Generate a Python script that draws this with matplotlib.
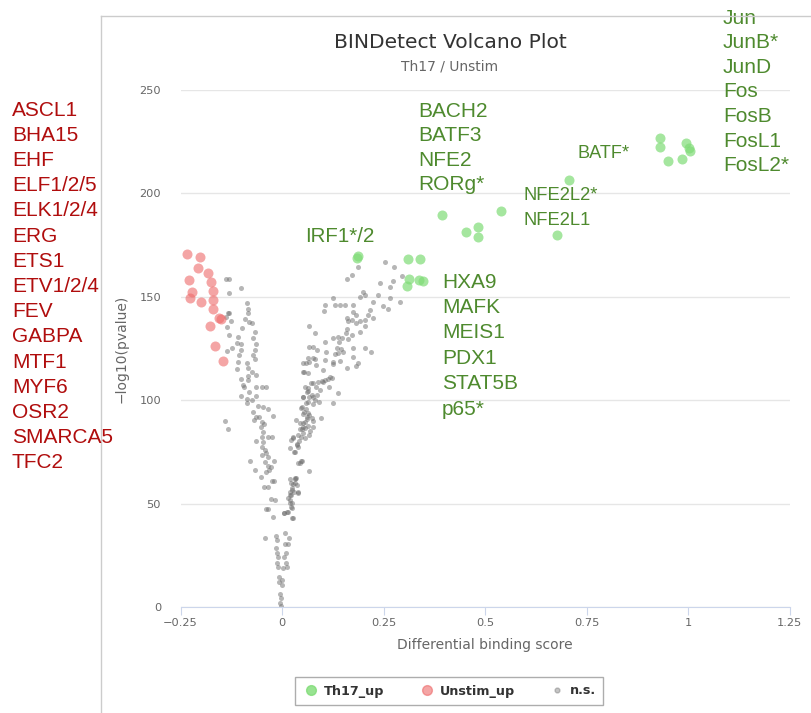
import matplotlib
matplotlib.use("Agg")
import matplotlib.pyplot as plt
from matplotlib.lines import Line2D

# Th17_up motifs (differential binding score, -log10 pvalue)
up_x = [0.931, 0.931, 0.951, 0.995, 1.002, 1.005, 0.985, 0.707, 0.539, 0.394,
        0.483, 0.453, 0.483, 0.677, 0.184, 0.188, 0.311, 0.340, 0.314, 0.338,
        0.348, 0.309]
up_y = [226.8, 222.4, 215.7, 224.4, 222.0, 220.5, 216.6, 206.5, 191.5, 189.6,
        183.8, 181.3, 178.9, 179.9, 168.6, 169.7, 168.3, 168.3, 158.5, 158.1,
        157.8, 155.2]

# Unstim_up motifs
down_x = [-0.235, -0.202, -0.208, -0.182, -0.228, -0.176, -0.222, -0.227, -0.171,
          -0.171, -0.200, -0.171, -0.154, -0.150, -0.177, -0.165, -0.145]
down_y = [170.7, 169.1, 163.8, 161.7, 158.1, 157.3, 152.2, 149.3, 152.8,
          148.5, 147.6, 144.0, 139.9, 139.3, 136.0, 126.4, 119.1]

# non-significant motifs
ns_x = [-0.139, -0.131, -0.101, -0.130, -0.087, -0.084, -0.083, -0.134, -0.130, -0.139,
        -0.091, -0.075, -0.081, -0.126, -0.136, -0.099, -0.067, -0.130, -0.071, -0.108,
        -0.110, -0.101, -0.064, -0.124, -0.136, -0.101, -0.067, -0.071, -0.105, -0.067,
        -0.108, -0.087, -0.112, -0.083, -0.075, -0.064, -0.101, -0.083, -0.084, -0.097,
        -0.093, -0.050, -0.040, -0.065, -0.081, -0.064, -0.102, -0.087, -0.085, -0.073,
        -0.058, -0.048, -0.035, -0.023, -0.071, -0.064, -0.068, -0.057, -0.050, -0.044,
        -0.052, -0.046, -0.049, -0.140, -0.134, -0.034, -0.024, -0.065, -0.048, -0.049,
        -0.042, -0.049, -0.040, -0.035, -0.078, -0.042, -0.019, -0.035, -0.027, -0.032,
        -0.039, -0.067, -0.052, -0.019, -0.025, -0.044, -0.034, -0.027, -0.017, -0.035,
        -0.039, -0.021, -0.042, -0.016, -0.013, -0.016, -0.013, -0.011, -0.013, -0.011,
        -0.007, -0.001, 0.001, -0.007, -0.005, -0.003, -0.005, -0.003,
        0.007, 0.017, 0.007, 0.016, 0.009, 0.006, 0.009, 0.012, 0.003,
        0.006, 0.016, 0.024, 0.022, 0.025, 0.020, 0.022, 0.020, 0.024, 0.022,
        0.032, 0.034, 0.030, 0.040,
        0.020, 0.030, 0.036, 0.042, 0.047, 0.049, 0.052, 0.057, 0.044, 0.061,
        0.065, 0.055, 0.050, 0.058, 0.067, 0.077, 0.052, 0.063, 0.057, 0.071,
        0.063, 0.058, 0.052, 0.077, 0.067, 0.067, 0.081, 0.067, 0.040, 0.047,
        0.032, 0.022, 0.028,
        0.254, 0.277, 0.188, 0.172, 0.159, 0.273, 0.266, 0.241, 0.295, 0.199,
        0.192, 0.204, 0.236, 0.266, 0.291, 0.225, 0.248, 0.262, 0.126, 0.106,
        0.131, 0.143, 0.155, 0.174, 0.104, 0.217, 0.213, 0.225, 0.204, 0.176,
        0.182, 0.159, 0.163, 0.172, 0.192, 0.182, 0.204, 0.159, 0.158, 0.172,
        0.192, 0.126, 0.139, 0.147, 0.163, 0.106, 0.141, 0.135, 0.145, 0.139,
        0.150, 0.131, 0.076, 0.085, 0.108, 0.176, 0.204, 0.218, 0.176, 0.188,
        0.182, 0.159, 0.065, 0.081, 0.051, 0.067, 0.084, 0.106, 0.126, 0.143,
        0.125, 0.054, 0.100, 0.118, 0.114, 0.122, 0.106, 0.098, 0.077, 0.089,
        0.084, 0.094, 0.102, 0.116, 0.065, 0.061, 0.052, 0.073, 0.087, 0.081,
        0.092, 0.065, 0.076, 0.139, 0.125, 0.046, 0.059, 0.052, 0.067, 0.073,
        0.061, 0.077, 0.096, 0.034, 0.052, 0.065, 0.057, 0.044, 0.077, 0.069,
        0.052, 0.040, 0.028, 0.057, 0.067, 0.036, 0.040, 0.032, 0.049, 0.044,
        0.020, 0.032, 0.028, 0.036, 0.024, 0.040, 0.020, 0.016, 0.020, 0.024,
        0.012, 0.005, 0.026]
ns_y = [158.5, 158.5, 154.4, 152.0, 146.9, 144.0, 142.0, 142.3, 142.0, 140.4,
        139.1, 137.2, 138.0, 138.4, 135.5, 134.7, 133.1, 131.5, 130.2, 130.7,
        127.8, 127.2, 127.2, 125.1, 123.8, 124.3, 124.3, 121.9, 121.9, 119.8,
        118.6, 117.8, 114.9, 115.7, 113.8, 112.2, 110.1, 109.8, 111.7, 107.4,
        106.5, 106.5, 106.5, 106.5, 104.1, 102.0, 102.0, 100.4, 98.5, 100.1,
        97.2, 96.9, 95.6, 92.4, 94.4, 92.0, 90.4, 92.0, 89.6, 88.5,
        87.2, 84.8, 82.4, 90.1, 86.1, 82.4, 82.4, 80.4, 79.9, 77.5,
        75.9, 73.5, 74.3, 72.7, 70.7, 70.3, 70.7, 68.2, 67.6, 66.2,
        65.4, 66.2, 63.0, 61.1, 61.1, 57.9, 58.2, 52.4, 51.7, 47.2,
        47.2, 43.4, 33.5, 34.3, 32.4, 28.4, 26.0, 24.0, 21.1, 19.5,
        14.7, 13.1, 10.6, 12.2, 6.3, 4.2, 2.1, 0.5,
        35.6, 33.2, 30.5, 30.5, 26.0, 24.3, 21.1, 19.5, 18.7,
        45.3, 46.1, 42.9, 48.2, 50.1, 51.7, 54.2, 55.8, 57.4, 59.8,
        59.8, 62.2, 55.8, 55.3,
        76.7, 75.1, 78.8, 80.4, 82.4, 85.9, 87.2, 89.6, 88.8, 92.0,
        93.7, 94.4, 96.9, 98.5, 101.7, 101.7, 101.7, 104.6, 106.5, 108.5,
        113.0, 117.8, 113.8, 120.3, 125.6, 135.9, 132.6, 65.9, 69.8, 70.7,
        61.8, 80.8, 82.4,
        166.7, 164.3, 164.3, 160.5, 158.6, 157.6, 154.9, 156.5, 160.2, 152.5,
        150.0, 150.9, 150.9, 149.3, 147.6, 147.3, 145.6, 144.1, 149.6, 146.0,
        146.0, 146.0, 146.0, 146.0, 143.1, 143.6, 141.2, 139.6, 138.8, 142.8,
        141.2, 139.6, 138.4, 138.8, 138.3, 137.2, 136.0, 134.4, 132.4, 131.5,
        133.1, 129.9, 130.7, 129.9, 129.6, 128.0, 128.0, 125.4, 124.6, 122.7,
        123.5, 122.2, 125.9, 124.3, 123.5, 125.4, 125.1, 123.2, 121.0, 117.8,
        116.5, 115.7, 120.3, 119.9, 117.8, 118.6, 117.0, 119.4, 118.3, 118.9,
        117.4, 113.5, 114.6, 111.4, 110.3, 110.9, 109.8, 109.3, 108.2, 108.7,
        106.5, 104.9, 108.9, 106.5, 105.8, 104.1, 101.7, 102.5, 102.5, 100.1,
        99.3, 99.3, 98.0, 103.3, 98.8, 96.1, 95.7, 93.2, 92.8, 91.2,
        90.9, 89.9, 91.2, 90.4, 88.8, 87.7, 86.4, 86.1, 86.9, 85.1,
        84.0, 83.2, 81.6, 81.9, 83.2, 78.3, 77.5, 74.8, 70.6, 69.5,
        61.9, 62.5, 59.3, 59.0, 56.6, 55.5, 54.2, 52.6, 50.1, 48.0,
        46.1, 45.6, 43.2]

x_ticks = [-0.25, 0, 0.25, 0.5, 0.75, 1, 1.25]
x_ticklabels = ["\u22120.25", "0", "0.25", "0.5", "0.75", "1", "1.25"]
y_ticks = [0, 50, 100, 150, 200, 250]

# motif name groups written next to the clusters
unstim_names = ["ASCL1", "BHA15", "EHF", "ELF1/2/5", "ELK1/2/4", "ERG", "ETS1",
                "ETV1/2/4", "FEV", "GABPA", "MTF1", "MYF6", "OSR2", "SMARCA5", "TFC2"]
jun_names = ["Jun", "JunB*", "JunD", "Fos", "FosB", "FosL1", "FosL2*"]
bach_names = ["BACH2", "BATF3", "NFE2", "RORg*"]
hxa_names = ["HXA9", "MAFK", "MEIS1", "PDX1", "STAT5B", "p65*"]
nfe_names = ["NFE2L2*", "NFE2L1"]

GREEN_TXT = "#4e8a2e"
RED_TXT = "#b00d0d"
W, H = 811, 713

fig = plt.figure(figsize=(W / 100, H / 100), dpi=100)
ax = fig.add_axes([180.5 / W, 1 - 607 / H, 609 / W, 517 / H])

ax.scatter(ns_x, ns_y, s=13, color="#6e6e6e", alpha=0.5, linewidths=0, zorder=2)
ax.scatter(down_x, down_y, s=52, color="#ee6a6a", alpha=0.6, linewidths=0, zorder=3)
ax.scatter(up_x, up_y, s=52, color="#7fdc76", alpha=0.7, linewidths=0, zorder=3)

ax.set_xlim(-0.25, 1.25)
ax.set_ylim(0, 250)
ax.set_xticks(x_ticks)
ax.set_xticklabels(x_ticklabels)
ax.set_yticks(y_ticks)
for s in ["top", "right", "left"]:
    ax.spines[s].set_visible(False)
ax.spines["bottom"].set_color("#ccd6eb")
ax.tick_params(axis="x", length=6, color="#ccd6eb", labelcolor="#666666",
               labelsize=8.2, pad=2)
ax.tick_params(axis="y", length=0, labelcolor="#666666", labelsize=8.2, pad=14)
ax.yaxis.grid(True, color="#e6e6e6", linewidth=1)
ax.set_axisbelow(True)

ax.set_xlabel("Differential binding score", fontsize=10, color="#666666", labelpad=7)
ax.set_ylabel("\u2212log10(pvalue)", fontsize=10, color="#666666", labelpad=8)

fig.text(450 / W, 1 - 42 / H, "BINDetect Volcano Plot", ha="center", va="center",
         fontsize=14.6, color="#333333")
fig.text(450 / W, 1 - 67 / H, "Th17 / Unstim", ha="center", va="center",
         fontsize=10, color="#666666")


def name_stack(names, x, y, color, size, step):
    # one label per line, stepping down in pixels from the anchor (data coords)
    for i, n in enumerate(names):
        ax.annotate(n, (x, y), xytext=(0, -i * step * 0.72), textcoords="offset points",
                    ha="left", va="center", fontsize=size, color=color,
                    family="Liberation Sans", annotation_clip=False)


name_stack(jun_names, 1.086, 284.8, GREEN_TXT, 15, 24.6)
name_stack(bach_names, 0.335, 239.8, GREEN_TXT, 15, 24.6)
name_stack(hxa_names, 0.394, 157.1, GREEN_TXT, 15, 25.4)
name_stack(["IRF1*/2"], 0.057, 179.4, GREEN_TXT, 14.8, 25)
name_stack(["BATF*"], 0.729, 219.1, GREEN_TXT, 13.1, 25)
name_stack(nfe_names, 0.594, 199.2, GREEN_TXT, 13.2, 25.5)

for i, n in enumerate(unstim_names):
    fig.text(12 / W, 1 - (110 + i * 25.2) / H, n, ha="left", va="center",
             fontsize=15, color=RED_TXT, family="Liberation Sans")

# outer frame lines
fig.add_artist(Line2D([101 / W, 101 / W], [0, 1 - 16 / H], color="#cccccc", lw=1))
fig.add_artist(Line2D([101 / W, 1], [1 - 16 / H, 1 - 16 / H], color="#cccccc", lw=1))

handles = [
    Line2D([], [], marker="o", ls="", markersize=7, color="#7fdc76", alpha=0.8),
    Line2D([], [], marker="o", ls="", markersize=7, color="#ee6a6a", alpha=0.6),
    Line2D([], [], marker="o", ls="", markersize=3.5, color="#6e6e6e", alpha=0.4),
]
leg = fig.legend(handles, ["Th17_up", "Unstim_up", "n.s."], ncol=3,
                 loc="center", bbox_to_anchor=(449 / W, 1 - 691 / H),
                 frameon=True, fancybox=False, edgecolor="#999999",
                 handletextpad=0.3, columnspacing=2.6, handlelength=1.4,
                 borderpad=0.6, prop={"weight": "bold", "size": 9.2})
for t in leg.get_texts():
    t.set_color("#333333")

fig.savefig("out.png", dpi=100)
